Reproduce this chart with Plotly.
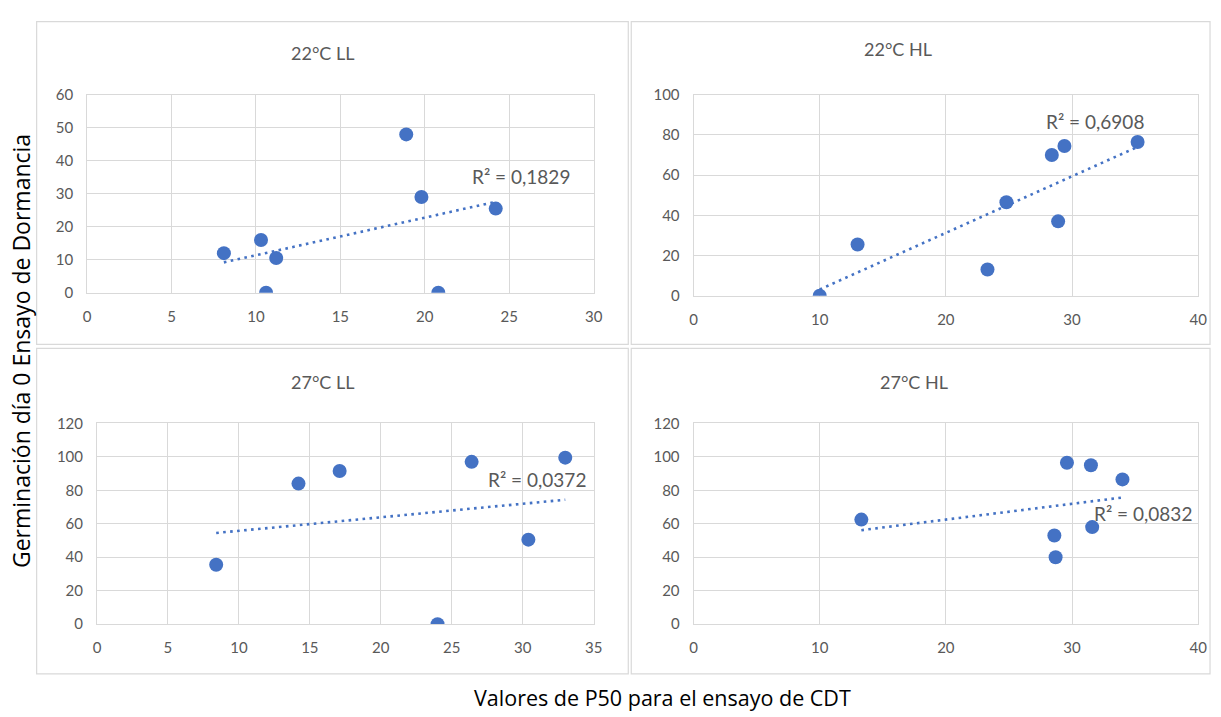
import numpy as np
import plotly.graph_objects as go

W, H = 1221, 717

# ---- data ----
titles = ["22°C LL", "22°C HL", "27°C LL", "27°C HL"]
r2_labels = ["R² = 0,1829", "R² = 0,6908", "R² = 0,0372", "R² = 0,0832"]

x_22LL = [8.1, 10.3, 11.2, 10.6, 18.9, 19.8, 20.8, 24.2]
y_22LL = [12, 16, 10.5, 0, 48, 29, 0, 25.5]

x_22HL = [10.0, 13.0, 23.3, 24.8, 28.4, 28.9, 29.4, 35.2]
y_22HL = [0, 25.5, 13, 46.5, 70, 37, 74.5, 76.5]

x_27LL = [8.4, 14.2, 17.1, 24.0, 26.4, 30.4, 33.0]
y_27LL = [35.5, 84, 91.5, 0, 97, 50.5, 99.5]

x_27HL = [13.3, 28.6, 28.7, 29.6, 31.5, 31.6, 34.0]
y_27HL = [62.5, 53, 40, 96.5, 95, 58, 86.5]

x_ranges = [[0, 30], [0, 40], [0, 35], [0, 40]]
x_dticks = [5, 10, 5, 10]
y_ranges = [[0, 60], [0, 100], [0, 120], [0, 120]]
y_dticks = [10, 20, 20, 20]

# ---- layout geometry (pixels) ----
plot_px = [  # x0, x1, ytop, ybottom
    (84, 596, 87, 290),
    (697, 1207, 87, 293),
    (94, 596, 424, 630),
    (697, 1207, 424, 630),
]
panel_px = [
    (33, 631, 12, 343),
    (634, 1219, 12, 343),
    (33, 631, 347, 681),
    (634, 1219, 347, 681),
]
title_px = [(322, 44), (904, 40), (322, 382), (920, 382)]
r2_pos = [(25.7, 35.2), (31.8, 86.9), (31.0, 86.2), (35.6, 66.4)]

BLUE = "#4472C4"
GRID = "#d9d9d9"
TXT = "#595959"
FONT = "Lato, Calibri, sans-serif"
TITLE_FONT = "'Open Sans', 'Segoe UI', sans-serif"

def px(x):
    return x / W

def py(y):
    return 1 - y / H

series = [(x_22LL, y_22LL), (x_22HL, y_22HL), (x_27LL, y_27LL), (x_27HL, y_27HL)]

fig = go.Figure()
shapes = []
annotations = []

for i, (xs, ys) in enumerate(series):
    ax = "" if i == 0 else str(i + 1)
    xref, yref = "x" + ax, "y" + ax
    # scatter points
    fig.add_trace(go.Scatter(
        x=xs, y=ys, mode="markers", xaxis=xref, yaxis=yref,
        marker=dict(size=14, color=BLUE, line=dict(width=0)),
        showlegend=False, hoverinfo="x+y"))
    # linear trendline
    xa = np.array(xs, dtype=float)
    ya = np.array(ys, dtype=float)
    m, b = np.polyfit(xa, ya, 1)
    tx = np.array([xa.min(), xa.max()])
    fig.add_trace(go.Scatter(
        x=tx, y=m * tx + b, mode="lines", xaxis=xref, yaxis=yref,
        line=dict(color=BLUE, width=2.6, dash="2.6px,4.4px"),
        showlegend=False, hoverinfo="skip"))

    x0, x1, yt, yb = plot_px[i]
    axis_common = dict(showgrid=True, gridcolor=GRID, gridwidth=1,
                       showline=True, linecolor=GRID, linewidth=1, mirror=True,
                       zeroline=False, ticks="", fixedrange=True,
                       tickfont=dict(family=FONT, size=15, color=TXT))
    fig.layout["xaxis" + ax] = dict(
        domain=[px(x0), px(x1)], range=x_ranges[i], dtick=x_dticks[i], tick0=0,
        anchor=yref, ticklabelstandoff=10, **axis_common)
    fig.layout["yaxis" + ax] = dict(
        domain=[py(yb), py(yt)], range=y_ranges[i], dtick=y_dticks[i], tick0=0,
        anchor=xref, ticklabelstandoff=10, **axis_common)

    # panel border
    p0, p1, pt, pb = panel_px[i]
    shapes.append(dict(type="rect", xref="paper", yref="paper",
                       x0=px(p0), x1=px(p1), y0=py(pb), y1=py(pt),
                       line=dict(color=GRID, width=1.2), layer="below"))
    # panel title
    tx_, ty_ = title_px[i]
    annotations.append(dict(text=titles[i], xref="paper", yref="paper",
                            x=px(tx_), y=py(ty_), showarrow=False,
                            xanchor="center", yanchor="middle",
                            font=dict(family=FONT, size=18, color=TXT)))
    # R^2 label
    rx, ry = r2_pos[i]
    annotations.append(dict(text=r2_labels[i], xref=xref, yref=yref,
                            x=rx, y=ry, showarrow=False,
                            xanchor="center", yanchor="middle",
                            font=dict(family=FONT, size=19, color=TXT)))

# outer axis titles
annotations.append(dict(text="Valores de P50 para el ensayo de CDT",
                        xref="paper", yref="paper", x=px(666), y=py(705),
                        showarrow=False, xanchor="center", yanchor="middle",
                        font=dict(family=TITLE_FONT, size=21.5, color="#000000")))
annotations.append(dict(text="Germinación día 0 Ensayo de Dormancia",
                        xref="paper", yref="paper", x=px(17), y=py(350),
                        showarrow=False, xanchor="center", yanchor="middle",
                        textangle=-90,
                        font=dict(family=TITLE_FONT, size=23, color="#000000")))

fig.update_layout(
    width=W, height=H, margin=dict(l=0, r=0, t=0, b=0),
    paper_bgcolor="white", plot_bgcolor="white",
    shapes=shapes, annotations=annotations, showlegend=False,
)

fig.write_html("out.html", config={"displayModeBar": False},
               post_script="document.body.style.margin='0px';document.body.style.overflow='hidden';")
